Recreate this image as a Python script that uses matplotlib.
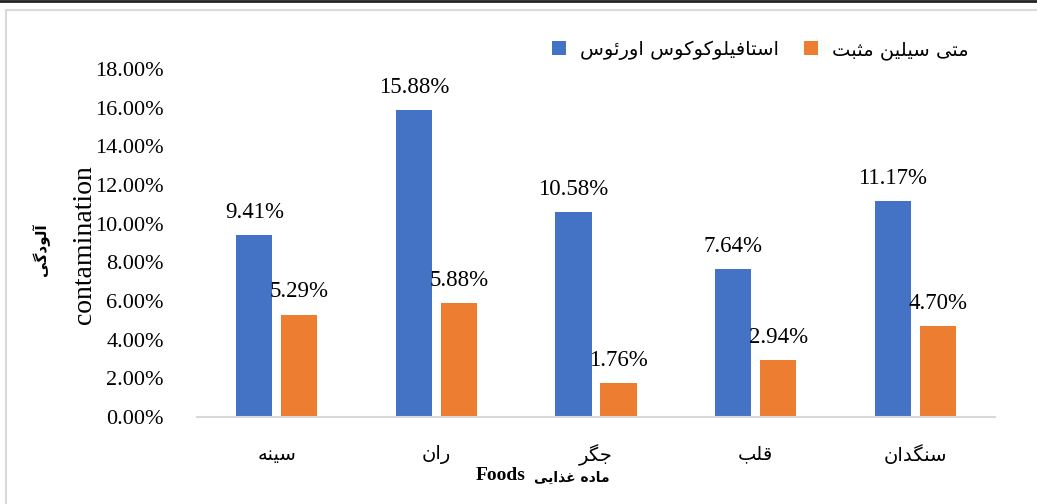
import numpy as np
import matplotlib
matplotlib.use("Agg")
import matplotlib.pyplot as plt
from matplotlib.lines import Line2D

# Persian letters -> (isolated, final, initial, medial) presentation forms
FORMS = {
    'ا': ('\uFE8D', '\uFE8E', None, None),
    'آ': ('\uFE81', '\uFE82', None, None),
    'ب': ('\uFE8F', '\uFE90', '\uFE91', '\uFE92'),
    'ت': ('\uFE95', '\uFE96', '\uFE97', '\uFE98'),
    'ث': ('\uFE99', '\uFE9A', '\uFE9B', '\uFE9C'),
    'ج': ('\uFE9D', '\uFE9E', '\uFE9F', '\uFEA0'),
    'د': ('\uFEA9', '\uFEAA', None, None),
    'ذ': ('\uFEAB', '\uFEAC', None, None),
    'ر': ('\uFEAD', '\uFEAE', None, None),
    'س': ('\uFEB1', '\uFEB2', '\uFEB3', '\uFEB4'),
    'غ': ('\uFECD', '\uFECE', '\uFECF', '\uFED0'),
    'ف': ('\uFED1', '\uFED2', '\uFED3', '\uFED4'),
    'ق': ('\uFED5', '\uFED6', '\uFED7', '\uFED8'),
    'ل': ('\uFEDD', '\uFEDE', '\uFEDF', '\uFEE0'),
    'م': ('\uFEE1', '\uFEE2', '\uFEE3', '\uFEE4'),
    'ن': ('\uFEE5', '\uFEE6', '\uFEE7', '\uFEE8'),
    'ه': ('\uFEE9', '\uFEEA', '\uFEEB', '\uFEEC'),
    'و': ('\uFEED', '\uFEEE', None, None),
    'ئ': ('\uFE89', '\uFE8A', '\uFE8B', '\uFE8C'),
    'ی': ('\uFBFC', '\uFBFD', '\uFBFE', '\uFBFF'),
    'ک': ('\uFB8E', '\uFB8F', '\uFB90', '\uFB91'),
    'گ': ('\uFB92', '\uFB93', '\uFB94', '\uFB95'),
}


def fa(text):
    # simple shaping + right-to-left reordering (no reshaper available)
    text = text.replace('\u064A', 'ی').replace('\u0643', 'ک')
    out = []
    for i, ch in enumerate(text):
        if ch not in FORMS:
            out.append(ch)
            continue
        prev = text[i - 1] if i > 0 else ''
        nxt = text[i + 1] if i + 1 < len(text) else ''
        iso, fin, ini, med = FORMS[ch]
        jp = prev in FORMS and FORMS[prev][2] is not None
        jn = nxt in FORMS and ini is not None
        if jp and jn:
            out.append(med)
        elif jp:
            out.append(fin)
        elif jn:
            out.append(ini)
        else:
            out.append(iso)
    return ''.join(reversed(out))


foods = ['سینه', 'ران', 'جگر', 'قلب', 'سنگدان']
staph = [9.41, 15.88, 10.58, 7.64, 11.17]
mrsa = [5.29, 5.88, 1.76, 2.94, 4.70]
series_names = ['استافیلوکوکوس اورئوس', 'متی سیلین مثبت']
yticks = np.arange(0, 20, 2)

blue = '#4472C4'
orange = '#ED7D31'
serif = 'Liberation Serif'
arab = 'DejaVu Sans'

fig = plt.figure(figsize=(10.37, 5.04), dpi=100)
ax = fig.add_axes([197 / 1037, 1 - 417 / 504, (995 - 197) / 1037, (417 - 69) / 504])

x = np.arange(len(foods))
w = 0.226
off = 0.141
b1 = ax.bar(x - off, staph, w, color=blue, label=fa(series_names[0]))
b2 = ax.bar(x + off, mrsa, w, color=orange, label=fa(series_names[1]))

for bars, vals in ((b1, staph), (b2, mrsa)):
    for r, v in zip(bars, vals):
        ax.annotate('%.2f%%' % v, (r.get_x() + r.get_width() / 2, v),
                    xytext=(0, 16.5), textcoords='offset points',
                    ha='center', va='center', fontsize=16.5, family=serif)

ax.set_xlim(-0.5, len(foods) - 0.5)
ax.set_ylim(0, 18)
ax.set_yticks(yticks)
ax.set_yticklabels(['%.2f%%' % t for t in yticks], family=serif, fontsize=16)
ax.set_xticks(x)
ax.set_xticklabels([fa(f) for f in foods], family=arab, fontsize=14)
ax.tick_params(axis='y', length=0, pad=24)
ax.tick_params(axis='x', length=0, pad=20)
for s in ['top', 'right', 'left']:
    ax.spines[s].set_visible(False)
ax.spines['bottom'].set_color('#D9D9D9')
ax.spines['bottom'].set_linewidth(1.5)

# axis titles
fig.text(85 / 1037, 1 - 245 / 504, 'contamination', rotation=90, family=serif,
         fontsize=20, ha='center', va='center')
fig.text(41 / 1037, 1 - 250 / 504, fa('آلودگی'), rotation=90, family=arab,
         fontsize=11, fontweight='bold', ha='center', va='center')
fig.text(501 / 1037, 1 - 475 / 504, 'Foods', family=serif, fontsize=14,
         fontweight='bold', ha='center', va='center')
fig.text(572 / 1037, 1 - 478 / 504, fa('ماده غذایی'), family=arab, fontsize=10,
         fontweight='bold', ha='center', va='center')

fig.legend(loc='center left', bbox_to_anchor=(552 / 1037, 1 - 50 / 504),
           bbox_transform=fig.transFigure, ncol=2, frameon=False,
           prop={'family': arab, 'size': 14}, handlelength=0.72,
           handleheight=0.72, handletextpad=0.7, columnspacing=1.3,
           borderpad=0, borderaxespad=0)

# chart frame (top and left edges only) and the dark rule at the top
fy = 1 - 9.5 / 504
fx = 5.5 / 1037
fig.add_artist(Line2D([fx, 1], [fy, fy], color='#D9D9D9', lw=1.5))
fig.add_artist(Line2D([fx, fx], [0, fy], color='#D9D9D9', lw=1.5))
fig.add_artist(Line2D([0, 1], [1 - 1 / 504, 1 - 1 / 504], color='#222222', lw=2))

fig.savefig('out.png', dpi=100)
